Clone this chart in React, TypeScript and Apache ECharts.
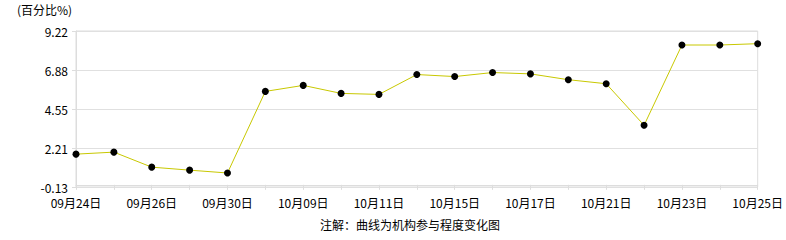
import React, { useEffect, useRef } from "react";
import * as echarts from "echarts";

const categories = [
  "09月24日", "09月25日", "09月26日", "09月27日", "09月30日",
  "10月08日", "10月09日", "10月10日", "10月11日", "10月14日",
  "10月15日", "10月16日", "10月17日", "10月18日", "10月21日",
  "10月22日", "10月23日", "10月24日", "10月25日",
];
const values = [
  1.84, 1.96, 1.06, 0.88, 0.71, 5.60, 5.96, 5.48, 5.42, 6.61,
  6.49, 6.73, 6.65, 6.30, 6.06, 3.57, 8.38, 8.38, 8.46,
];
const yTickLabels = ["-0.13", "2.21", "4.55", "6.88", "9.22"];
const yMin = -0.13;
const yMax = 9.22;
const unitLabel = "(百分比%)";
const caption = "注解：曲线为机构参与程度变化图";

export default function App() {
  const ref = useRef<HTMLDivElement>(null);
  useEffect(() => {
    const chart = echarts.init(ref.current!, null, { renderer: "svg" });
    const font = "'Noto Sans CJK SC', 'DejaVu Sans', sans-serif";
    chart.setOption({
      animation: false,
      backgroundColor: "#fff",
      textStyle: { fontFamily: font },
      grid: {
        left: 76, right: 26, top: 31, bottom: 53,
        show: true, borderColor: "#dddddd", borderWidth: 1,
      },
      graphic: [
        { type: "text", left: 17, top: 3, style: { text: unitLabel, fontSize: 12, fill: "#000", fontFamily: font } },
        { type: "text", left: 320, top: 218, style: { text: caption, fontSize: 12, fill: "#000", fontFamily: font } },
      ],
      xAxis: {
        type: "category",
        data: categories,
        boundaryGap: false,
        axisLine: { show: true, lineStyle: { color: "#dddddd" } },
        axisTick: { show: true, interval: 0, length: 5, lineStyle: { color: "#dddddd" } },
        axisLabel: { interval: 1, color: "#000", fontSize: 12, lineHeight: 12, margin: 9, fontFamily: font },
        splitLine: { show: false },
      },
      yAxis: {
        type: "value",
        min: yMin,
        max: yMax,
        interval: (yMax - yMin) / 4,
        axisLine: { show: true, lineStyle: { color: "#dddddd" } },
        axisTick: { show: true, length: 4, lineStyle: { color: "#dddddd" } },
        axisLabel: {
          color: "#000", fontSize: 12, lineHeight: 12, margin: 8, fontFamily: font,
          formatter: (_v: number, i: number) => yTickLabels[i] ?? "",
        },
        splitLine: { show: true, lineStyle: { color: "#e0e0e0" } },
      },
      series: [
        {
          type: "line",
          data: values,
          symbol: "circle",
          symbolSize: 7,
          itemStyle: { color: "#000" },
          lineStyle: { color: "#c8c800", width: 1 },
        },
      ],
    });
    return () => chart.dispose();
  }, []);
  return <div ref={ref} style={{ width: 786, height: 240, position: "absolute", left: 0, top: 0 }} />;
}
